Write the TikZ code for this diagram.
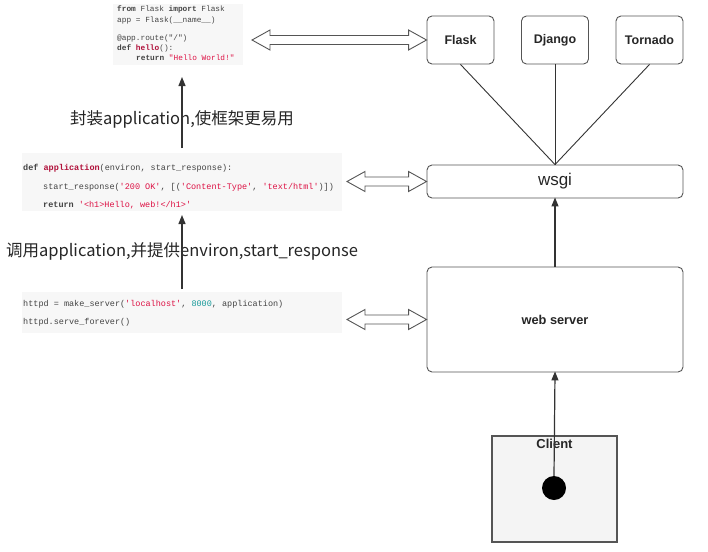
\documentclass[tikz,border=0pt]{standalone}
\usepackage{fontspec}
\setmainfont{Liberation Sans}
\newfontfamily\cjk{Noto Sans CJK SC}
\newfontfamily\codefont[Ligatures=TeXOff]{Liberation Mono}
\usetikzlibrary{arrows.meta,calc}
\definecolor{boxline}{HTML}{555555}
\definecolor{arrline}{HTML}{333333}
\definecolor{codetext}{HTML}{444444}
\definecolor{codebg}{HTML}{F7F7F7}
\definecolor{fnred}{HTML}{B0103A}
\definecolor{strred}{HTML}{DD1144}
\definecolor{numteal}{HTML}{159999}
\definecolor{clientbg}{HTML}{F4F4F4}
\newcommand\ckw[1]{\textbf{#1}}
\newcommand\cfn[1]{\textcolor{fnred}{\textbf{#1}}}
\newcommand\cstr[1]{\textcolor{strred}{#1}}
\newcommand\cnum[1]{\textcolor{numteal}{#1}}
\newcommand\hdarrow[2]{%
  \draw[harrow] let \p1=(#1), \p2=(#2) in
    (\x1,\y1) -- (\x1+18pt,\y1+10pt) -- (\x1+18pt,\y1+4.5pt)
    -- (\x2-18pt,\y1+4.5pt) -- (\x2-18pt,\y1+10pt) -- (\x2,\y1)
    -- (\x2-18pt,\y1-10pt) -- (\x2-18pt,\y1-4.5pt)
    -- (\x1+18pt,\y1-4.5pt) -- (\x1+18pt,\y1-10pt) -- cycle;}
\tikzset{
  fwbox/.style={draw=boxline, line width=0.9pt, rounded corners=5pt, fill=white,
    font=\bfseries\fontsize{12.5}{14}\selectfont, text=black!85, inner sep=0pt},
  codebgbox/.style={fill=codebg, draw=none, anchor=north west, inner sep=0pt},
  codeA/.style={anchor=base west, inner sep=0pt, text=codetext,
    font=\codefont\fontsize{7.8}{9}\selectfont},
  codeB/.style={anchor=base west, inner sep=0pt, text=codetext,
    font=\codefont\fontsize{8.5}{10}\selectfont},
  harrow/.style={draw=boxline, line width=0.9pt, fill=white, line join=miter},
  link/.style={draw=arrline, line width=0.9pt},
  arr/.style={draw=arrline, line width=1.2pt, -{Triangle[length=9pt,width=7pt]}},
  cjklabel/.style={font=\cjk\fontsize{16.5}{18}\selectfont, text=black!85, inner sep=0pt}
}
\begin{document}
\begin{tikzpicture}[x=1pt,y=-1pt]
\useasboundingbox (0,0) rectangle (708,551);
\fill[white] (0,0) rectangle (708,551);

% code block 1
\node[codebgbox, minimum width=130pt, minimum height=61pt] (code1) at (113,4) {};
\node[codeA] (c1a) at (117,11.5) {\ckw{from} Flask \ckw{import} Flask};
\node[codeA] (c1b) at (117,22.5) {app = Flask(\_\_name\_\_)};
\node[codeA] (c1c) at (117,40.5) {@app.route("/")};
\node[codeA] (c1d) at (117,50.5) {\ckw{def} \cfn{hello}():};
\node[codeA] (c1e) at (136,60.5) {\ckw{return} \cstr{"Hello World!"}};

% code block 2
\node[codebgbox, minimum width=320pt, minimum height=58pt] (code2) at (22,153) {};
\node[codeB] (c2a) at (23,170) {\ckw{def} \cfn{application}(environ, start\_response):};
\node[codeB] (c2b) at (43,189) {start\_response(\cstr{'200 OK'}, [(\cstr{'Content-Type'}, \cstr{'text/html'})])};
\node[codeB] (c2c) at (43,207) {\ckw{return} \cstr{'<h1>Hello, web!</h1>'}};

% code block 3
\node[codebgbox, minimum width=320pt, minimum height=41pt] (code3) at (22,292) {};
\node[codeB] (c3a) at (23,306) {httpd = make\_server(\cstr{'localhost'}, \cnum{8000}, application)};
\node[codeB] (c3b) at (23,324) {httpd.serve\_forever()};

% labels
\node[cjklabel] (lab1) at (182,119) {封装application,使框架更易用};
\node[cjklabel] (lab2) at (182,251) {调用application,并提供environ,start\_response};

% framework boxes
\node[fwbox, minimum width=67pt, minimum height=48pt] (flask) at (460.5,40) {Flask};
\node[fwbox, minimum width=67pt, minimum height=48pt] (django) at (555,40) {Django};
\node[fwbox, minimum width=67pt, minimum height=48pt] (tornado) at (649.5,40) {Tornado};

% wsgi
\node[fwbox, minimum width=256pt, minimum height=33pt, font=\fontsize{17}{19}\selectfont] (wsgi) at (555,181.5) {wsgi};

% web server
\node[fwbox, minimum width=256pt, minimum height=105pt, font=\bfseries\fontsize{12.8}{14}\selectfont] (web) at (555,319.5) {web server};

% client
\node[draw=boxline, line width=1.3pt, fill=clientbg, minimum width=125pt, minimum height=106pt, inner sep=0pt] (client) at (554.5,489) {};
\node[font=\bfseries\fontsize{13}{15}\selectfont, text=black!85, inner sep=0pt] (clientlab) at (554.5,443.5) {Client};
\node[circle, fill=black, minimum size=24pt, inner sep=0pt] (dot) at (554,488) {};

% connectors
\draw[link] (flask.south) -- (wsgi.north);
\draw[link] (django.south) -- (wsgi.north);
\draw[link] (tornado.south) -- (wsgi.north);
\draw[arr, shorten >=-1pt] (web.north) -- (wsgi.south);
\draw[arr, shorten >=-1pt] (dot.north) -- (web.south);

\coordinate (a1s) at (182,148);
\coordinate (a1e) at (182,77);
\coordinate (a2s) at (182,289);
\coordinate (a2e) at (182,215);
\draw[arr] (a1s) -- (a1e);
\draw[arr] (a2s) -- (a2e);

% hollow double arrows
\coordinate (h1) at (252,40);
\coordinate (h2) at (347,181.5);
\coordinate (h3) at (347,319.5);
\hdarrow{h1}{flask.west}
\hdarrow{h2}{wsgi.west}
\hdarrow{h3}{web.west}
\end{tikzpicture}
\end{document}
